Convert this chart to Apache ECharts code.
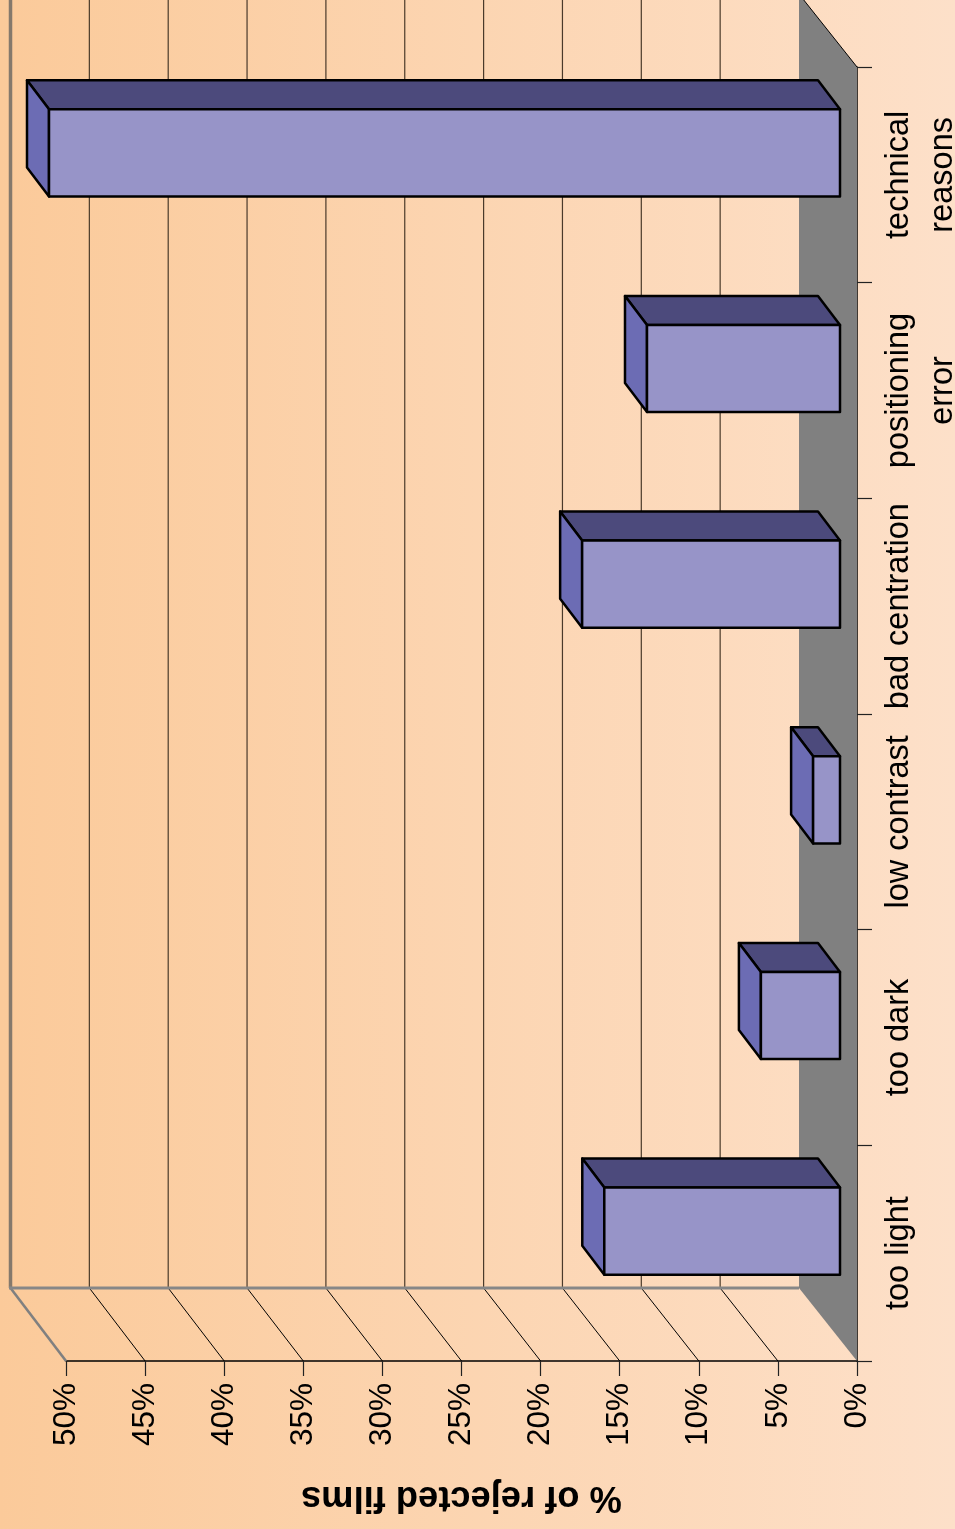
<!DOCTYPE html>
<html>
<head>
<meta charset="utf-8">
<style>html,body{margin:0;padding:0;background:#fff}#c{width:955px;height:1529px}</style>
<script src="https://cdn.jsdelivr.net/npm/echarts@6/dist/echarts.min.js"></script>
</head>
<body>
<div id="c"></div>
<script>
const categories = ['too light', 'too dark', 'low contrast', 'bad centration', 'positioning\nerror', 'technical\nreasons'];
const rejectedShare = [14.9, 5, 1.7, 16.3, 12.2, 50];
const valueTicks = [0, 5, 10, 15, 20, 25, 30, 35, 40, 45, 50];
const axisName = '% of rejected films';

const depthX = -58, depthY = -73;
const wallDx = v => depthX + v * 0.05;

const chart = echarts.init(document.getElementById('c'), null, {renderer: 'canvas'});

function renderFloor(params, api) {
  const band = api.size([0, 1])[1];
  const p = api.coord([0, 0]);
  const xF = p[0], yF = p[1] + band / 2;
  const yT = api.coord([0, categories.length - 1])[1] - band / 2;
  return {type: 'group', children: [
    {type: 'polygon', shape: {points: [[xF, yT], [xF, yF], [xF + depthX, yF + depthY], [xF + depthX, yT + depthY]]},
      style: {fill: '#808080'}},
    {type: 'line', shape: {x1: xF, y1: yT, x2: xF + depthX, y2: yT + depthY}, style: {stroke: '#000', lineWidth: 1}}
  ]};
}

function renderWall(params, api) {
  const v = api.value(0);
  const band = api.size([0, 1])[1];
  const p = api.coord([v, 0]);
  const xF = p[0], yF = p[1] + band / 2;
  const yT = api.coord([v, categories.length - 1])[1] - band / 2;
  const xB = xF + wallDx(v), yB = yF + depthY;
  const children = [];
  if (v === 0) return {type: 'group', children};
  const isEdge = v === valueTicks[valueTicks.length - 1];
  children.push({type: 'line', shape: {x1: xB, y1: yT + depthY, x2: xB, y2: yB},
    style: {stroke: isEdge ? '#85796c' : '#4a3a2a', lineWidth: isEdge ? 3.5 : 1.2}});
  children.push({type: 'line', shape: {x1: xB, y1: yB, x2: xF, y2: yF},
    style: {stroke: isEdge ? '#808080' : '#000', lineWidth: isEdge ? 2.6 : 1}});
  if (isEdge) {
    const x0 = api.coord([0, 0])[0] + wallDx(0);
    children.push({type: 'line', shape: {x1: xB - 1.5, y1: yB, x2: x0, y2: yB}, style: {stroke: '#878787', lineWidth: 2.8}});
  }
  return {type: 'group', children};
}

function renderBar(params, api) {
  const v = api.value(0), i = api.value(1);
  const band = api.size([0, 1])[1];
  const c0 = api.coord([0, i]), cv = api.coord([v, i]);
  const ox = -17, oy = -22, bx = -22, by = -29, h = band * 0.202;
  const xr = c0[0] + ox, xl = cv[0] + ox, yc = c0[1] + oy;
  const t = yc - h, b = yc + h;
  const stroke = {stroke: '#000', lineWidth: 2.5, lineJoin: 'round'};
  return {type: 'group', children: [
    {type: 'polygon', shape: {points: [[xl, t], [xr, t], [xr + bx, t + by], [xl + bx, t + by]]},
      style: Object.assign({fill: '#4c4a7c'}, stroke)},
    {type: 'polygon', shape: {points: [[xl, t], [xl, b], [xl + bx, b + by], [xl + bx, t + by]]},
      style: Object.assign({fill: '#6c6cb4'}, stroke)},
    {type: 'rect', shape: {x: xl, y: t, width: xr - xl, height: b - t},
      style: Object.assign({fill: '#9794c8'}, stroke)}
  ]};
}

chart.setOption({
  animation: false,
  backgroundColor: new echarts.graphic.LinearGradient(0, 0, 1, 0, [
    {offset: 0, color: '#fbca9a'},
    {offset: 1, color: '#fde0c9'}
  ]),
  grid: {left: 66, top: 67, width: 791, height: 1294, containLabel: false, outerBoundsMode: 'none'},
  xAxis: {
    type: 'value', inverse: true, min: 0, max: 50, interval: 5, position: 'bottom',
    name: axisName, nameLocation: 'middle', nameRotate: 180, nameGap: 118,
    nameTextStyle: {fontFamily: 'Liberation Sans', fontWeight: 'bold', fontSize: 36.3, color: '#000'},
    axisLine: {show: true, onZero: false, lineStyle: {color: '#000', width: 1.5}},
    axisTick: {show: true, length: 15, lineStyle: {color: '#222', width: 1.2}},
    axisLabel: {rotate: 90, margin: 22, hideOverlap: false, formatter: '{value}%', fontFamily: 'Liberation Sans', fontSize: 31.5, color: '#000'},
    splitLine: {show: false}
  },
  yAxis: {
    type: 'category', data: categories, position: 'right', boundaryGap: true,
    axisLine: {show: true, onZero: false, lineStyle: {color: '#000', width: 1.5}},
    axisTick: {show: true, length: 15, alignWithLabel: false, lineStyle: {color: '#222', width: 1.2}},
    axisLabel: {rotate: 90, margin: 20, interval: 0, lineHeight: 44, fontFamily: 'Liberation Sans', fontSize: 32.5, color: '#000'},
    splitLine: {show: false}
  },
  series: [
    {type: 'custom', silent: true, clip: false, z: 1, renderItem: renderFloor,
      encode: {x: 0, y: 1}, data: [[0, 0]]},
    {type: 'custom', silent: true, clip: false, z: 2, renderItem: renderWall,
      encode: {x: 0, y: 1}, data: valueTicks.map(v => [v, 0])},
    {type: 'custom', silent: true, clip: false, z: 3, renderItem: renderBar,
      encode: {x: 0, y: 1}, data: rejectedShare.map((v, i) => [v, i])}
  ]
});
</script>
</body>
</html>
